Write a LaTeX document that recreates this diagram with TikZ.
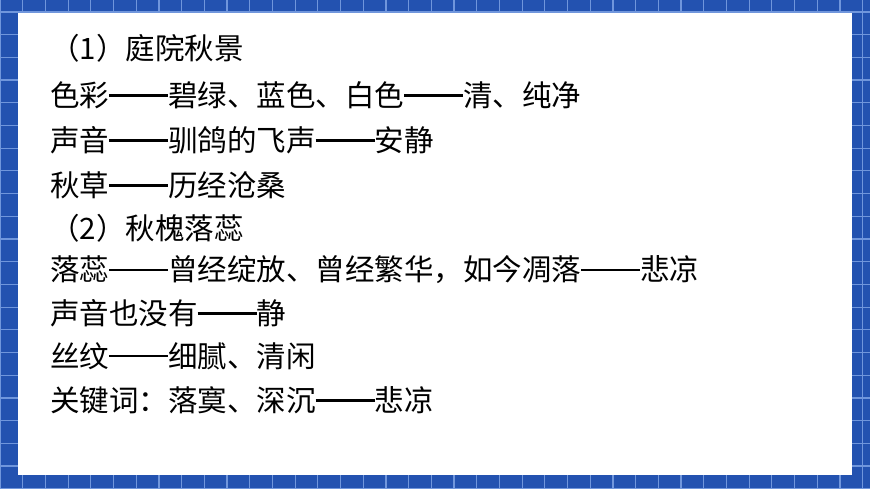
\documentclass[tikz,border=0pt]{standalone}
\usepackage{fontspec}
\newfontfamily\cjk{Noto Sans CJK SC}
\newcommand{\dd}{\rule[0.33em]{2em}{0.07em}}
\definecolor{bg}{HTML}{2352B0}
\definecolor{gl}{HTML}{7096DC}
\begin{document}
\begin{tikzpicture}[x=1pt,y=-1pt,
  line/.style={anchor=west,font=\cjk\fontsize{29.5}{30}\selectfont,inner sep=0pt}]
\useasboundingbox (0,0) rectangle (870,489);
\fill[bg] (0,0) rectangle (870,489);
\foreach \i in {0,...,38} {\draw[gl,line width=1.2pt] (\i*22.7,0) -- (\i*22.7,489);}
\foreach \j in {0,...,21} {\draw[gl,line width=1.2pt] (0,12+\j*22.7) -- (870,12+\j*22.7);}
\fill[white] (18,13) rectangle (852,475);
\node[line] (l1) at (50,48) {（1）庭院秋景};
\node[line] (l2) at (50,95) {色彩\dd 碧绿、蓝色、白色\dd 清、纯净};
\node[line] (l3) at (50,140) {声音\dd 驯鸽的飞声\dd 安静};
\node[line] (l4) at (50,185) {秋草\dd 历经沧桑};
\node[line] (l5) at (50,228) {（2）秋槐落蕊};
\node[line] (l6) at (50,270) {落蕊\dd 曾经绽放、曾经繁华，如今凋落\dd 悲凉};
\node[line] (l7) at (50,313) {声音也没有\dd 静};
\node[line] (l8) at (50,356) {丝纹\dd 细腻、清闲};
\node[line] (l9) at (50,400) {关键词：落寞、深沉\dd 悲凉};
\end{tikzpicture}
\end{document}
